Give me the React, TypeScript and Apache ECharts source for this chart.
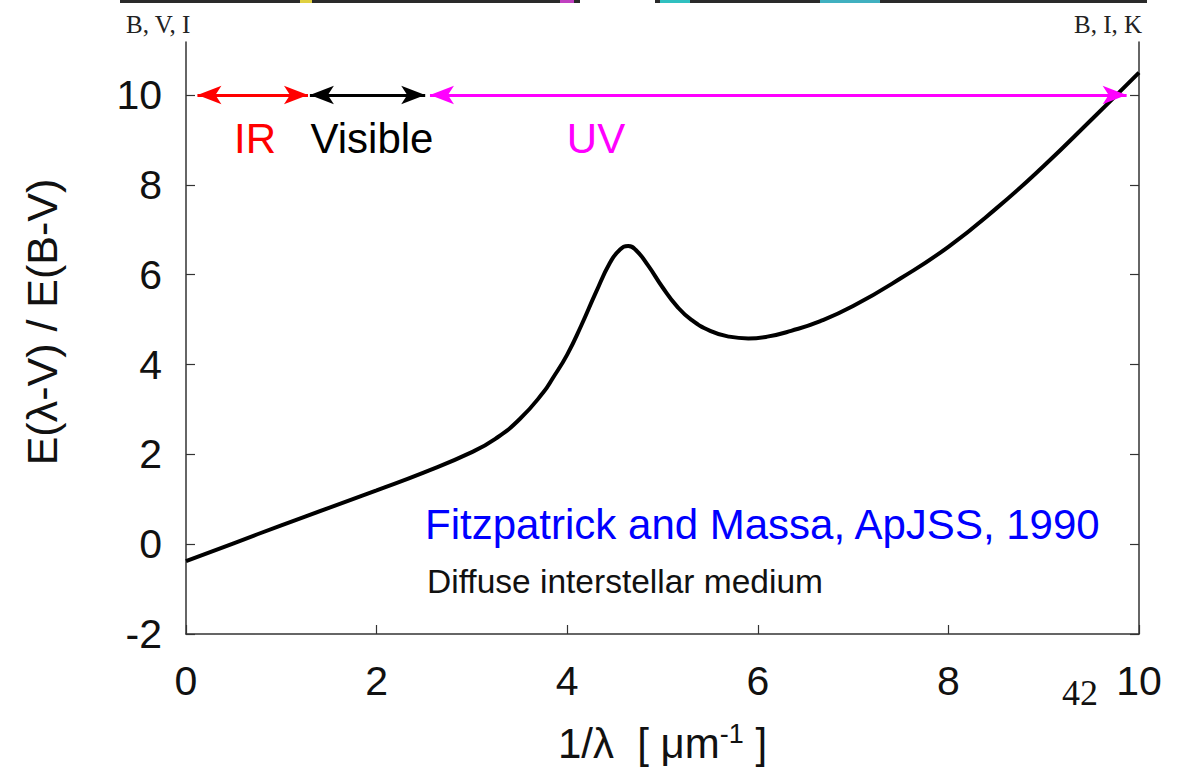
import React, { useEffect, useRef } from "react";
import * as echarts from "echarts";

const xInv: number[] = [0, 0.5, 1, 1.5, 2, 2.5, 3, 3.25, 3.5, 3.75, 3.85, 4.0, 4.15, 4.3, 4.45, 4.55, 4.64, 4.72, 4.85, 5.0, 5.15, 5.3, 5.5, 5.7, 5.9, 6.1, 6.35, 6.65, 7.0, 7.5, 8.0, 8.5, 9.0, 9.5, 10.0];
const ratio: number[] = [-0.38, 0.02, 0.42, 0.81, 1.2, 1.6, 2.05, 2.35, 2.78, 3.38, 3.7, 4.22, 4.88, 5.6, 6.27, 6.55, 6.64, 6.55, 6.2, 5.72, 5.3, 5.0, 4.75, 4.62, 4.58, 4.62, 4.75, 4.96, 5.3, 5.92, 6.62, 7.47, 8.42, 9.45, 10.5];

const xTicks: number[] = [0, 2, 4, 6, 8, 10];
const yTicks: number[] = [-2, 0, 2, 4, 6, 8, 10];

const bands = [
  { name: "IR", from: 0.12, to: 1.28, color: "#ff0000" },
  { name: "Visible", from: 1.3, to: 2.51, color: "#000000" },
  { name: "UV", from: 2.56, to: 9.87, color: "#ff00ff" },
];
const bandLevel = 10;

const FONT = "'Liberation Sans', Arial, Helvetica, sans-serif";
const SERIF = "'Liberation Serif', 'Times New Roman', serif";

export default function App() {
  const ref = useRef<HTMLDivElement>(null);
  useEffect(() => {
    if (!ref.current) return;
    const chart = echarts.init(ref.current, undefined, { renderer: "svg" });
    const axisColor = "#333";
    chart.setOption({
      animation: false,
      backgroundColor: "#fff",
      grid: { left: 186, right: 43, top: 42, bottom: 133, containLabel: false, outerBoundsMode: "none" },
      xAxis: {
        type: "value",
        min: 0,
        max: 10,
        interval: 2,
        axisLine: { show: true, onZero: false, lineStyle: { color: axisColor, width: 1.5 } },
        axisTick: { show: true, inside: true, length: 9, lineStyle: { color: axisColor, width: 1.2 } },
        axisLabel: { fontFamily: FONT, fontSize: 41, color: "#111", margin: 26, customValues: xTicks },
        splitLine: { show: false },
        name: "{a|1/λ  [ μm}{s|-1}{a| ]}",
        nameLocation: "middle",
        nameGap: 86,
        nameTextStyle: {
          rich: {
            a: { fontFamily: FONT, fontSize: 42, color: "#111", lineHeight: 44, verticalAlign: "bottom" },
            s: { fontFamily: FONT, fontSize: 27, color: "#111", lineHeight: 44, verticalAlign: "top" },
          },
        },
      },
      yAxis: [
        {
          type: "value",
          min: -2,
          max: 11.18,
          position: "left",
          axisLine: { show: true, onZero: false, lineStyle: { color: axisColor, width: 1.5 } },
          axisTick: { show: true, inside: true, length: 9, customValues: yTicks, lineStyle: { color: axisColor, width: 1.2 } },
          axisLabel: { fontFamily: FONT, fontSize: 41, color: "#111", margin: 24, customValues: yTicks },
          splitLine: { show: false },
        },
        {
          type: "value",
          min: -2,
          max: 11.18,
          position: "right",
          axisLine: { show: true, onZero: false, lineStyle: { color: axisColor, width: 1.5 } },
          axisTick: { show: true, inside: true, length: 9, customValues: yTicks, lineStyle: { color: axisColor, width: 1.2 } },
          axisLabel: { show: false },
          splitLine: { show: false },
        },
      ],
      series: [
        {
          type: "line",
          data: xInv.map((x, i) => [x, ratio[i]]),
          smooth: 0.5,
          showSymbol: false,
          symbol: "none",
          lineStyle: { color: "#000", width: 4 },
          z: 3,
        },
        {
          type: "line",
          data: [],
          markLine: {
            silent: true,
            symbol: ["arrow", "arrow"],
            symbolSize: [14, 24],
            label: { show: false },
            data: bands.map((b) => [
              { coord: [b.from, bandLevel], lineStyle: { color: b.color, width: 3, type: "solid" }, itemStyle: { color: b.color } },
              { coord: [b.to, bandLevel] },
            ]),
          },
          z: 4,
        },
      ],
      graphic: [
        { type: "rect", shape: { x: 120, y: 0, width: 460, height: 3 }, style: { fill: "#2a2a2a" } },
        { type: "rect", shape: { x: 655, y: 0, width: 492, height: 3 }, style: { fill: "#2a2a2a" } },
        { type: "rect", shape: { x: 300, y: 0, width: 12, height: 3 }, style: { fill: "#e0d040" } },
        { type: "rect", shape: { x: 560, y: 0, width: 14, height: 3 }, style: { fill: "#c040c0" } },
        { type: "rect", shape: { x: 660, y: 0, width: 30, height: 3 }, style: { fill: "#30c0c0" } },
        { type: "rect", shape: { x: 820, y: 0, width: 60, height: 3 }, style: { fill: "#40b0c0" } },
        { type: "text", x: 126, y: 12, style: { text: "B, V, I", font: `25px ${SERIF}`, fill: "#222" } },
        { type: "text", x: 1074, y: 12, style: { text: "B, I, K", font: `25px ${SERIF}`, fill: "#222" } },
        { type: "text", x: 42, y: 322, rotation: Math.PI / 2, style: { text: "E(λ-V) / E(B-V)", font: `43px ${FONT}`, fill: "#111", align: "center", verticalAlign: "middle" } },
        { type: "text", x: 255, y: 138, style: { text: "IR", font: `42px ${FONT}`, fill: "#ff0000", align: "center", verticalAlign: "middle" } },
        { type: "text", x: 372, y: 138, style: { text: "Visible", font: `42px ${FONT}`, fill: "#000", align: "center", verticalAlign: "middle" } },
        { type: "text", x: 596, y: 138, style: { text: "UV", font: `42px ${FONT}`, fill: "#ff00ff", align: "center", verticalAlign: "middle" } },
        { type: "text", x: 425, y: 524, style: { text: "Fitzpatrick and Massa, ApJSS, 1990", font: `42px ${FONT}`, fill: "#0000ff", align: "left", verticalAlign: "middle" } },
        { type: "text", x: 427, y: 581, style: { text: "Diffuse interstellar medium", font: `33.5px ${FONT}`, fill: "#111", align: "left", verticalAlign: "middle" } },
        { type: "text", x: 1080, y: 693, style: { text: "42", font: `36px ${SERIF}`, fill: "#111", align: "center", verticalAlign: "middle" } },
      ],
    });
    return () => chart.dispose();
  }, []);
  return <div ref={ref} style={{ position: "fixed", left: 0, top: 0, width: 1182, height: 767, background: "#fff" }} />;
}
